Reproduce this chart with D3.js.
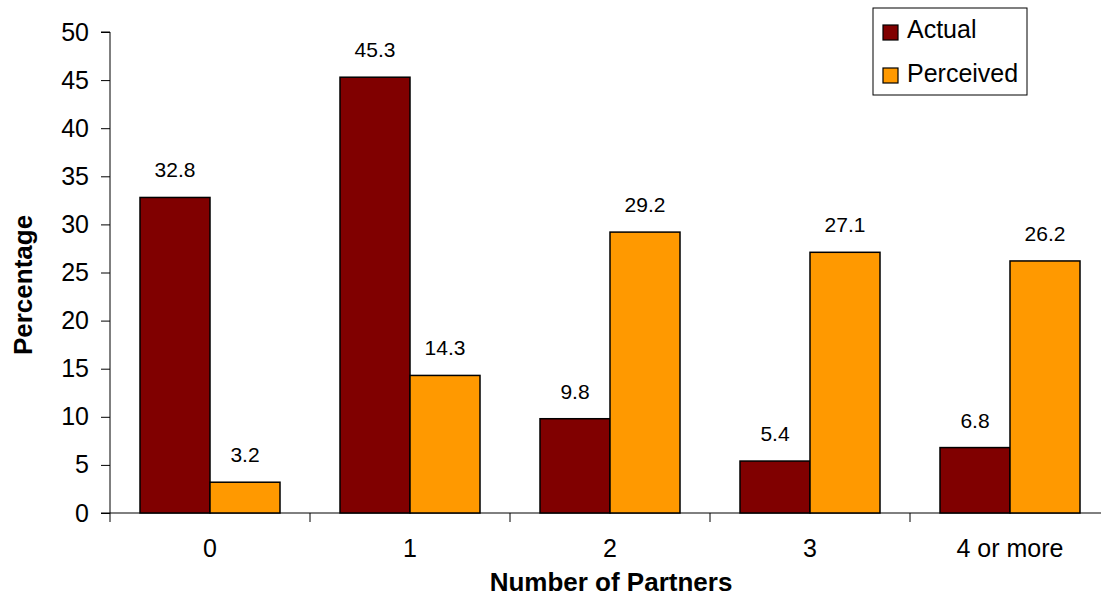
<!DOCTYPE html>
<html><head><meta charset="utf-8">
<script src="https://cdn.jsdelivr.net/npm/d3@7"></script>
<style>body{margin:0;background:#fff}svg{display:block;font-family:"Liberation Sans",Arial,sans-serif}</style>
</head><body><svg id="c" width="1101" height="596"></svg>
<script>
const categories = ["0","1","2","3","4 or more"];
const seriesNames = ["Actual","Perceived"];
const actual = [32.8,45.3,9.8,5.4,6.8];
const perceived = [3.2,14.3,29.2,27.1,26.2];
const yTicks = [0,5,10,15,20,25,30,35,40,45,50];
const colors = ["#800000","#FF9900"];

const svg = d3.select("#c");
const m = {l:110, r:1110, t:32, b:513};
const x = d3.scaleBand().domain(categories).range([m.l, m.r]);
const x1 = d3.scaleBand().domain(seriesNames).range([30, 170]);
const y = d3.scaleLinear().domain([0,50]).range([m.b, m.t]);
const FF = "Liberation Sans, Arial, sans-serif";

// axes
const ya = svg.append("g").attr("transform",`translate(${m.l},0)`)
  .call(d3.axisLeft(y).tickValues(yTicks).tickSize(9).tickPadding(12));
ya.select(".domain").attr("stroke","#000").attr("d",`M-9,${m.t}H0V${m.b}`);
ya.selectAll(".tick line").attr("stroke","#000");
ya.selectAll("text").attr("font-size",25).attr("font-family",FF).attr("fill","#000");

const xa = svg.append("g").attr("transform",`translate(0,${m.b})`)
  .call(d3.axisBottom(x).tickSize(0).tickPadding(26));
xa.select(".domain").attr("d",`M${m.l-9},0H1101`).attr("stroke","#000");
xa.selectAll("text").attr("font-size",25).attr("font-family",FF).attr("fill","#000");
// category boundary ticks
svg.append("g").selectAll("line").data(categories).join("line")
  .attr("x1",d=>x(d)).attr("x2",d=>x(d)).attr("y1",m.b).attr("y2",m.b+9).attr("stroke","#000");

const data = categories.map((c,i)=>({c, vals:[actual[i],perceived[i]]}));
const g = svg.append("g").selectAll("g").data(data).join("g").attr("transform",d=>`translate(${x(d.c)},0)`);
g.selectAll("rect").data(d=>d.vals.map((v,j)=>({v,s:seriesNames[j],j}))).join("rect")
  .attr("x",d=>x1(d.s)).attr("width",x1.bandwidth())
  .attr("y",d=>y(d.v)).attr("height",d=>y(0)-y(d.v))
  .attr("fill",d=>colors[d.j]).attr("stroke","#000").attr("stroke-width",1.5);
g.selectAll("text").data(d=>d.vals.map((v,j)=>({v,s:seriesNames[j]}))).join("text")
  .attr("x",d=>x1(d.s)+x1.bandwidth()/2).attr("y",d=>y(d.v)-20)
  .attr("text-anchor","middle").attr("font-size",21).text(d=>d.v.toFixed(1));

// axis titles
svg.append("text").attr("x",611).attr("y",591).attr("text-anchor","middle")
  .attr("font-size",26).attr("font-weight","bold").text("Number of Partners");
svg.append("text").attr("transform","translate(32,285) rotate(-90)").attr("text-anchor","middle")
  .attr("font-size",26).attr("font-weight","bold").text("Percentage");

// legend
const lg = svg.append("g");
lg.append("rect").attr("x",873).attr("y",8).attr("width",154).attr("height",87)
  .attr("fill","#fff").attr("stroke","#000");
seriesNames.forEach((s,i)=>{
  const top = 25 + i*43;
  lg.append("rect").attr("x",883).attr("y",top).attr("width",15).attr("height",15)
    .attr("fill",colors[i]).attr("stroke","#000").attr("stroke-width",1.2);
  lg.append("text").attr("x",907).attr("y",38 + i*44).attr("font-size",25).text(s);
});
</script></body></html>
